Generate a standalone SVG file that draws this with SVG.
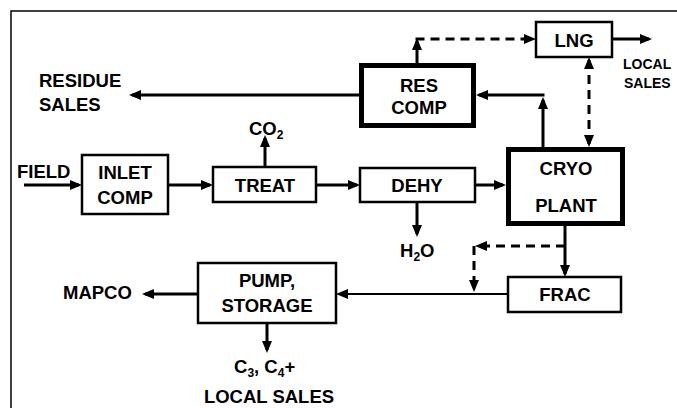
<svg xmlns="http://www.w3.org/2000/svg" width="677" height="408" viewBox="0 0 677 408">
<style>
text{font-family:"Liberation Sans",Arial,sans-serif;font-weight:bold;font-size:18.5px;fill:#000}
.c{text-anchor:middle}
.sm{font-size:14px}
.sub{font-size:12px}
.box{fill:#fff;stroke:#000;stroke-width:2.5}
.thick{fill:#fff;stroke:#000;stroke-width:5}
.ln{fill:none;stroke:#000;stroke-width:3;marker-end:url(#ah)}
.dash{stroke-dasharray:9,6}
.thin{stroke-width:2}
.frame{fill:none;stroke:#000;stroke-width:1.5}
</style>
<defs>
<marker id="ah" viewBox="0 0 12 10" refX="9" refY="5" markerWidth="12" markerHeight="10" markerUnits="userSpaceOnUse" orient="auto-start-reverse">
<path d="M0,0 L12,5 L0,10 z" fill="#000"/>
</marker>
</defs>
<rect width="677" height="408" fill="#fff"/>
<path class="frame" d="M11,408 V11 H677"/>
<g id="connectors">
<path class="ln" d="M24,185 H79"/>
<path class="ln" d="M168,185 H210"/>
<path class="ln" d="M316,185 H357"/>
<path class="ln" d="M475,185 H503"/>
<path class="ln" d="M265,167 V138"/>
<path class="ln" d="M417,202 V234"/>
<path class="ln" d="M543,147 V100"/>
<path class="ln" d="M544.5,95 H479"/>
<path class="ln" d="M359,95 H132"/>
<path class="ln" d="M417,63 V41"/>
<path class="ln dash" d="M415.5,39 H533"/>
<path class="ln" d="M612,39 H649"/>
<path class="ln dash" style="marker-start:url(#ah)" d="M589,60 V144"/>
<path class="ln" d="M565,226 V274"/>
<path class="ln dash" d="M565,246 H478"/>
<path class="ln dash" style="marker-end:url(#ah)" d="M474,246 V289"/>
<path class="ln thin" d="M508,294 H339"/>
<path class="ln" d="M198,294 H145"/>
<path class="ln" d="M267,323 V350"/>
</g>
<g id="field"><text x="17" y="178">FIELD</text></g>
<g id="inlet-comp">
<rect class="box" x="82" y="155" width="86" height="59"/>
<text class="c" x="125" y="179">INLET</text>
<text class="c" x="125" y="204">COMP</text>
</g>
<g id="treat">
<rect class="box" x="213" y="167" width="103" height="35"/>
<text class="c" x="265" y="192">TREAT</text>
</g>
<g id="co2"><text x="249" y="135">CO<tspan class="sub" dy="4">2</tspan></text></g>
<g id="dehy">
<rect class="box" x="360" y="168" width="115" height="34"/>
<text class="c" x="417" y="192">DEHY</text>
</g>
<g id="h2o"><text x="400" y="257">H<tspan class="sub" dy="4">2</tspan><tspan dy="-4">O</tspan></text></g>
<g id="cryo-plant">
<rect class="thick" x="508.5" y="149.5" width="114" height="74"/>
<text class="c" x="566" y="175">CRYO</text>
<text class="c" x="566" y="212">PLANT</text>
</g>
<g id="res-comp">
<rect class="thick" x="361.5" y="65.5" width="112" height="60"/>
<text class="c" x="419" y="92">RES</text>
<text class="c" x="419" y="114">COMP</text>
</g>
<g id="residue-sales">
<text x="39" y="87">RESIDUE</text>
<text x="39" y="111">SALES</text>
</g>
<g id="lng">
<rect class="box" x="536" y="22" width="76" height="35"/>
<text class="c" x="574" y="47">LNG</text>
</g>
<g id="lng-local-sales">
<text class="sm" x="623" y="69">LOCAL</text>
<text class="sm" x="624" y="88">SALES</text>
</g>
<g id="frac">
<rect class="box" x="508" y="277" width="113" height="35"/>
<text class="c" x="565" y="301">FRAC</text>
</g>
<g id="pump-storage">
<rect class="box" x="198" y="263" width="138" height="60"/>
<text class="c" x="267" y="287">PUMP,</text>
<text class="c" x="267" y="312">STORAGE</text>
</g>
<g id="mapco"><text x="63" y="299">MAPCO</text></g>
<g id="c3c4-local-sales">
<text x="234" y="373">C<tspan class="sub" dy="4">3</tspan><tspan dy="-4">, C</tspan><tspan class="sub" dy="4">4</tspan><tspan dy="-4">+</tspan></text>
<text class="c" x="269" y="403">LOCAL SALES</text>
</g>
</svg>
